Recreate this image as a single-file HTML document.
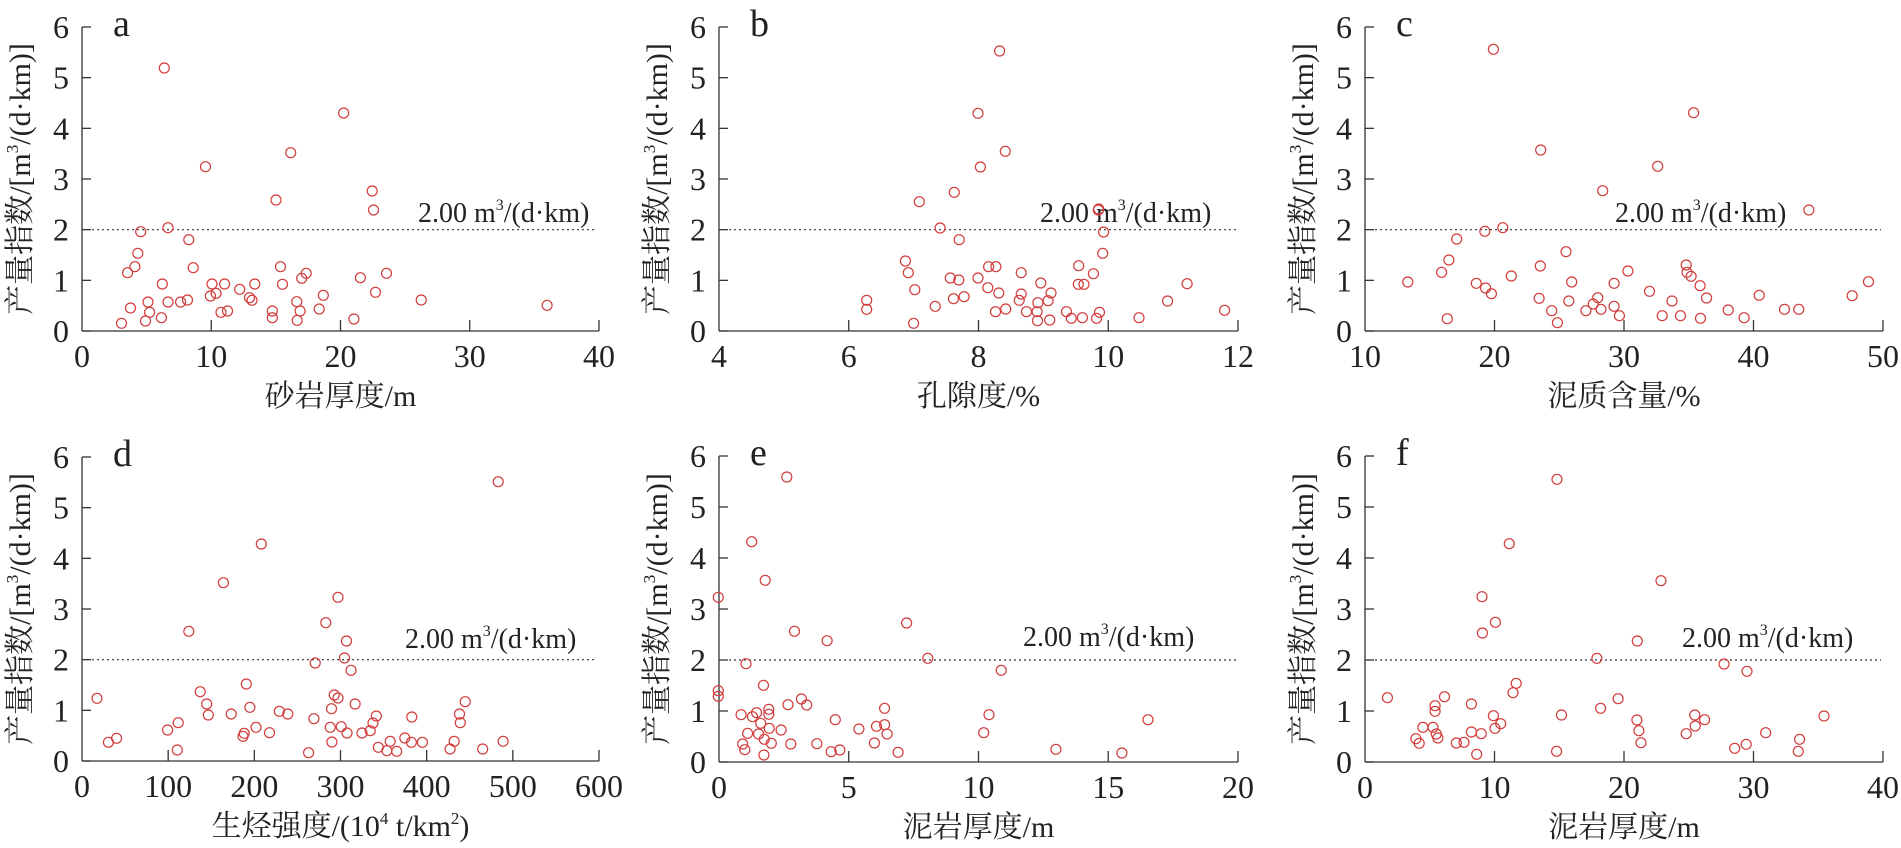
<!DOCTYPE html>
<html><head><meta charset="utf-8">
<style>
html,body{margin:0;padding:0;background:#fff;}
svg{display:block;}
text{font-family:"Liberation Serif","Noto Serif CJK SC",serif;fill:#222;}
</style></head>
<body>
<svg id="s" width="1901" height="848" viewBox="0 0 1901 848" xmlns="http://www.w3.org/2000/svg"></svg>
<script>
const NS="http://www.w3.org/2000/svg";
const S=document.getElementById('s');
function el(t,a,txt){const e=document.createElementNS(NS,t);for(const k in a)e.setAttribute(k,a[k]);if(txt!==undefined)e.textContent=txt;S.appendChild(e);return e;}
const FX=0.4077,FY=1/3;
const panels=[
 {L:'a',ox:0,oy:0,x0:82,x1:599,y6:27,y0:331,ticks:['0','10','20','30','40'],xl:'砂岩厚度/m',tx:418,ty:222,
  pts:[[403,204],[843,339],[713,458],[504,500],[677,600],[913,573],[916,630],[412,683],[345,695],[463,719],[338,760],[331,800],[313,818],[474,803],[398,852],[520,852],[551,852],[625,852],[688,800],[693,853],[751,820],[740,835],[884,833],[948,820],[588,868],[516,888],[530,880],[612,893],[618,901],[793,886],[921,877],[1033,900],[1342,916],[320,924],[363,906],[412,906],[443,906],[460,900],[367,937],[542,937],[558,933],[668,933],[728,905],[736,933],[783,927],[298,970],[357,963],[396,953],[668,953],[729,961],[868,957]]},
 {L:'b',ox:640,oy:0,x0:719,x1:1238,y6:27,y0:331,ticks:['4','6','8','10','12'],xl:'孔隙度/%',tx:1040,ty:222,
  pts:[[882,153],[829,340],[896,454],[835,501],[771,577],[685,605],[1124,630],[1125,627],[736,684],[1137,696],[783,719],[1135,760],[651,783],[658,818],[855,800],[873,800],[935,818],[1076,797],[1112,821],[761,834],[782,840],[829,834],[983,849],[1075,853],[1089,853],[1342,851],[674,869],[853,863],[880,879],[935,882],[1008,879],[556,901],[556,928],[769,896],[795,890],[930,901],[976,908],[1001,902],[1294,903],[724,919],[872,935],[897,927],[948,935],[974,935],[1046,935],[1127,937],[1434,931],[671,970],[975,962],[1005,960],[1058,955],[1085,953],[1120,955],[1224,953]]},
 {L:'c',ox:1261,oy:0,x0:1365,x1:1883,y6:27,y0:331,ticks:['10','20','30','40','50'],xl:'泥质含量/%',tx:1615,ty:222,
  pts:[[570,148],[1061,338],[686,450],[973,499],[838,572],[1344,630],[593,683],[549,694],[480,717],[748,755],[461,780],[443,817],[685,798],[1043,795],[1045,817],[1055,829],[614,828],[900,813],[360,846],[528,850],[551,864],[565,881],[762,846],[866,850],[1077,857],[1490,845],[953,874],[1093,894],[1222,886],[1450,887],[682,895],[755,903],[826,893],[815,912],[834,928],[866,919],[1008,903],[713,932],[797,932],[1146,930],[1284,928],[1319,928],[457,956],[727,968],[879,947],[984,947],[1029,947],[1078,955],[1185,953]]},
 {L:'d',ox:0,oy:424,x0:82,x1:599,y6:457,y0:761,ticks:['0','100','200','300','400','500','600'],xl:'',tx:405,ty:648,
  pts:[[1222,173],[641,360],[548,476],[829,520],[463,622],[799,596],[850,651],[773,717],[845,702],[861,739],[604,780],[238,823],[491,803],[507,840],[820,813],[829,822],[871,840],[1141,833],[813,854],[613,850],[685,862],[706,870],[567,870],[511,873],[1127,870],[1010,879],[923,876],[915,897],[770,884],[1129,896],[437,896],[411,918],[628,910],[661,926],[599,928],[596,937],[810,910],[837,908],[851,927],[888,927],[908,920],[266,955],[286,943],[814,954],[993,942],[957,952],[1009,955],[1036,955],[1114,952],[1234,952],[435,978],[757,986],[928,970],[949,980],[973,982],[1104,975],[1184,975]]},
 {L:'e',ox:640,oy:424,x0:719,x1:1238,y6:456,y0:762,ticks:['0','5','10','15','20'],xl:'泥岩厚度/m',tx:1023,ty:646,
  pts:[[360,159],[274,353],[307,469],[192,520],[654,597],[379,622],[459,650],[706,703],[260,719],[886,739],[303,784],[192,800],[192,817],[396,825],[363,842],[409,843],[316,856],[316,871],[600,853],[248,872],[286,866],[276,878],[479,887],[856,872],[1246,887],[296,898],[600,902],[580,907],[317,913],[346,918],[537,915],[264,928],[291,930],[305,946],[606,930],[843,926],[252,960],[257,977],[322,958],[370,960],[434,959],[575,957],[469,983],[490,978],[633,985],[304,993],[1020,976],[1182,987]]},
 {L:'f',ox:1261,oy:424,x0:1365,x1:1883,y6:456,y0:762,ticks:['0','10','20','30','40'],xl:'泥岩厚度/m',tx:1682,ty:647,
  pts:[[726,166],[609,359],[981,470],[542,518],[575,595],[543,627],[923,651],[824,703],[1136,720],[1192,742],[626,778],[618,806],[310,821],[450,818],[876,824],[516,840],[427,845],[427,862],[833,853],[570,875],[737,873],[1064,873],[1088,887],[1381,876],[922,888],[397,910],[422,910],[588,899],[574,913],[1065,906],[516,924],[540,929],[927,920],[1043,929],[1238,926],[430,930],[434,942],[380,944],[388,958],[479,957],[498,955],[932,956],[1321,946],[1162,973],[1190,961],[1318,982],[725,982],[529,991]]}
];
const AX='#333';
for(const p of panels){
  const u=(p.y0-p.y6)/6;
  el('line',{x1:p.x0,y1:p.y6,x2:p.x0,y2:p.y0,stroke:AX,'stroke-width':1.3});
  el('line',{x1:p.x0,y1:p.y0,x2:p.x1,y2:p.y0,stroke:AX,'stroke-width':1.3});
  for(let i=0;i<=6;i++){
    const y=p.y0-i*u;
    el('line',{x1:p.x0,y1:y,x2:p.x0+9,y2:y,stroke:AX,'stroke-width':1.3});
    el('text',{x:p.x0-13,y:y+11,'font-size':32,'text-anchor':'end'},String(i));
  }
  const n=p.ticks.length-1;
  p.ticks.forEach((t,i)=>{
    const x=p.x0+(p.x1-p.x0)*i/n;
    if(i>0) el('line',{x1:x,y1:p.y0,x2:x,y2:p.y0-11,stroke:AX,'stroke-width':1.3});
    el('text',{x:x,y:p.y0+36,'font-size':32,'text-anchor':'middle'},t);
  });
  const y2=p.y0-2*u;
  el('line',{x1:p.x0+10,y1:y2,x2:p.x1-2,y2:y2,stroke:'#333','stroke-width':1.2,'stroke-dasharray':'2,3'});
  const tt=el('text',{x:p.tx,y:p.ty,'font-size':28});
  tt.innerHTML='2.00 m<tspan font-size="16" dy="-12">3</tspan><tspan dy="12">/(d·km)</tspan>';
  el('text',{x:p.x0+31,y:p.y6+9,'font-size':38},p.L);
  const xl=el('text',{x:(p.x0+p.x1)/2,y:p.y0+75,'font-size':30,'text-anchor':'middle'});
  if(p.L==='d') xl.innerHTML='生烃强度/(10<tspan font-size="17" dy="-12">4</tspan><tspan dy="12"> t/km</tspan><tspan font-size="17" dy="-12">2</tspan><tspan dy="12">)</tspan>';
  else xl.textContent=p.xl;
  const cy=(p.y6+p.y0)/2, cx=p.x0-52;
  const yl=el('text',{x:cx,y:cy,'font-size':30,'text-anchor':'middle',transform:`rotate(-90 ${cx} ${cy})`});
  yl.innerHTML='产量指数/[m<tspan font-size="17" dy="-12">3</tspan><tspan dy="12">/(d·km)]</tspan>';
  for(const [px,py] of p.pts){
    el('circle',{cx:(p.ox+px*FX).toFixed(1),cy:(p.oy+py*FY).toFixed(1),r:5,fill:'none',stroke:'#d23c3c','stroke-width':1.2});
  }
}
</script>
</body></html>
